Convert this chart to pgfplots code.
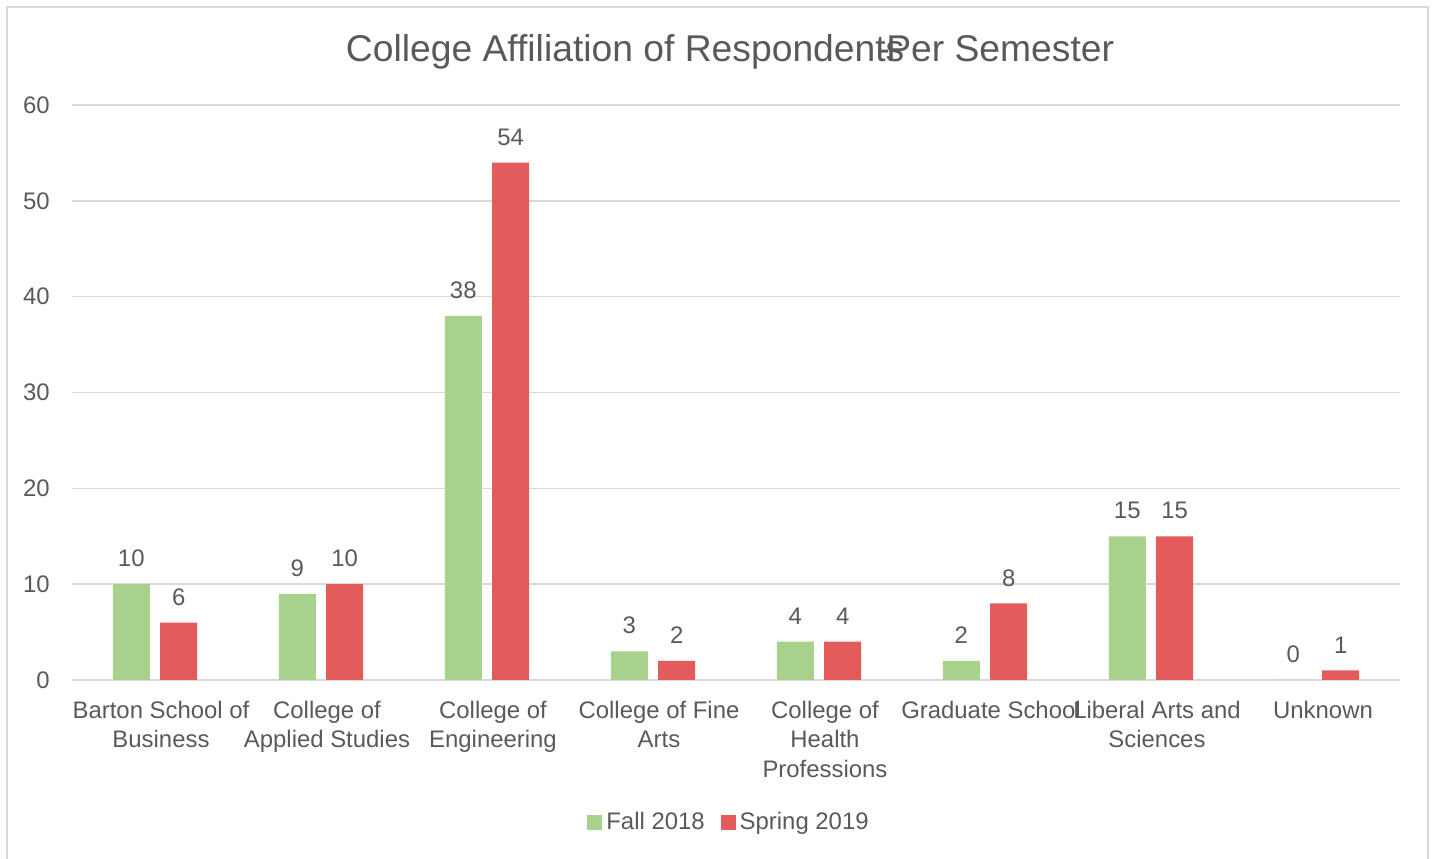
\documentclass[border=0pt]{standalone}
\usepackage{pgfplots}
\pgfplotsset{compat=1.18}
\usepackage{fontspec}
\setmainfont{Liberation Sans}
\definecolor{txt}{HTML}{595959}
\definecolor{gridc}{HTML}{D9D9D9}
\definecolor{fallc}{HTML}{A9D18E}
\definecolor{springc}{HTML}{E35B5B}
\begin{document}
\begin{tikzpicture}
\useasboundingbox (0,0) rectangle (717bp,429.5bp);
\draw[gridc, line width=1bp] (3.5bp,-2bp) -- (3.5bp,426bp) -- (714bp,426bp) -- (714bp,-2bp);
\begin{axis}[
  at={(36bp,89.5bp)}, anchor=south west,
  scale only axis, width=664bp, height=287.5bp,
  xmin=-0.5, xmax=7.5, ymin=0, ymax=60,
  ytick={0,10,...,60},
  xtick={0,...,7},
  xticklabels={{Barton School of\\Business},{College of\\Applied Studies},{College of\\Engineering},{College of Fine\\Arts},{College of\\Health\\Professions},{Graduate School},{Liberal Arts and\\Sciences},{Unknown}},
  axis line style={draw=none},
  major tick style={draw=none},
  ymajorgrids, grid style={gridc, line width=0.8bp},
  font=\fontsize{12}{14.75}\selectfont,
  ticklabel style={text=txt},
  xticklabel style={align=center, anchor=north, inner sep=0pt, yshift=-6bp, xshift=3bp},
  yticklabel style={anchor=east, inner sep=0pt, xshift=-11bp},
  /pgf/number format/assume math mode=true,
  ybar, bar width=0.223,
  nodes near coords,
  every node near coord/.append style={text=txt, font=\fontsize{12}{14}\selectfont, yshift=5bp},
  title={College Affiliation of Respondents\kern-0.72em-\kern-0.1em Per Semester},
  title style={at={(0.4955,1.0957)}, anchor=center, yshift=-7bp, text=txt, font=\fontsize{18.7}{22}\selectfont},
  legend style={at={(0.4955,-0.247)}, anchor=center, draw=none, fill=none, legend columns=2,
    font=\fontsize{12}{14}\selectfont, text=txt,
    /tikz/every even column/.append style={column sep=6bp}},
  legend image code/.code={\path[#1,draw=none] (0bp,-3.75bp) rectangle (7.5bp,3.75bp);},
]
\addplot[fill=fallc, draw=none, bar shift=-0.143] coordinates {(0,10) (1,9) (2,38) (3,3) (4,4) (5,2) (6,15) (7,0)};
\addplot[fill=springc, draw=none, bar shift=0.143] coordinates {(0,6) (1,10) (2,54) (3,2) (4,4) (5,8) (6,15) (7,1)};
\legend{Fall 2018, Spring 2019}
\end{axis}
\end{tikzpicture}
\end{document}
